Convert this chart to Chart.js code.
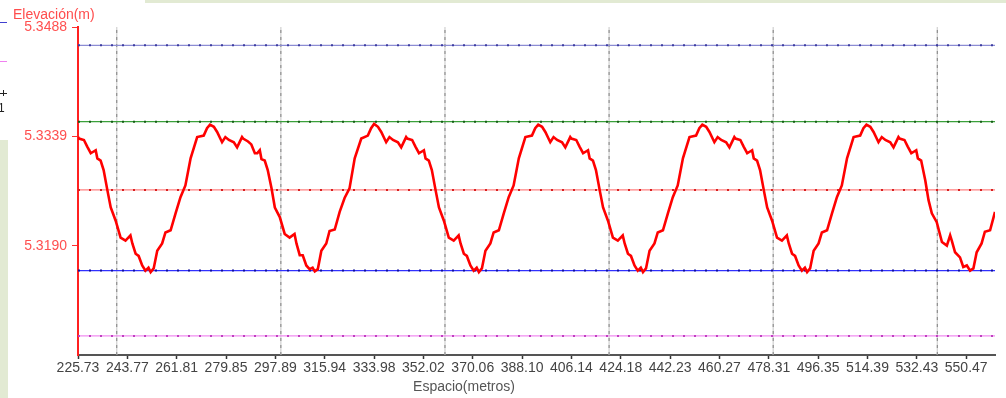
<!DOCTYPE html>
<html>
<head>
<meta charset="utf-8">
<script src="https://cdn.jsdelivr.net/npm/chart.js@4/dist/chart.umd.min.js"></script>
<style>
  body { margin: 0; background: #fff; }
  #wrap { width: 1006px; height: 398px; }
</style>
</head>
<body>
<div id="wrap"><canvas id="myChart" width="1006" height="398"></canvas></div>
<script>
// perfil medido (m)
const espacio = [
  225.73, 226.1, 227.9, 229.1, 230.4, 231.3, 232.2, 232.8, 234.0, 235.1, 236.5, 237.7, 239.5, 241.3, 243.1, 244.9, 245.6, 246.8, 247.9, 249.2, 250.4, 251.5, 252.3, 253.4, 254.7, 256.5, 257.7, 259.6, 261.4, 263.2, 265.0, 266.9, 269.3, 271.7, 272.9, 274.0, 275.4, 276.6, 278.4, 279.6, 280.9, 282.7, 283.9,
  285.7, 286.1, 287.9, 289.1, 290.4, 291.3, 292.2, 292.8, 294.0, 295.1, 296.5, 297.7, 299.5, 301.3, 303.1, 304.9, 305.6, 306.8, 307.9, 309.2, 310.4, 311.5, 312.3, 313.4, 314.7, 316.5, 317.7, 319.6, 321.4, 323.2, 325.0, 326.9, 329.3, 331.7, 332.9, 334.0, 335.4, 336.6, 338.4, 339.6, 340.9, 342.7, 343.9,
  345.7, 346.1, 347.9, 349.1, 350.4, 351.3, 352.2, 352.8, 354.0, 355.1, 356.5, 357.7, 359.5, 361.3, 363.1, 364.9, 365.6, 366.8, 367.9, 369.2, 370.4, 371.5, 372.3, 373.4, 374.7, 376.5, 377.7, 379.6, 381.4, 383.2, 385.0, 386.9, 389.3, 391.7, 392.9, 394.0, 395.4, 396.6, 398.4, 399.6, 400.9, 402.7, 403.9,
  405.7, 406.1, 407.9, 409.1, 410.4, 411.3, 412.2, 412.8, 414.0, 415.1, 416.5, 417.7, 419.5, 421.3, 423.1, 424.9, 425.6, 426.8, 427.9, 429.2, 430.4, 431.5, 432.3, 433.4, 434.7, 436.5, 437.7, 439.6, 441.4, 443.2, 445.0, 446.9, 449.3, 451.7, 452.9, 454.0, 455.4, 456.6, 458.4, 459.6, 460.9, 462.7, 463.9,
  465.7, 466.1, 467.9, 469.1, 470.4, 471.3, 472.2, 472.8, 474.0, 475.1, 476.5, 477.7, 479.5, 481.3, 483.1, 484.9, 485.6, 486.8, 487.9, 489.2, 490.4, 491.5, 492.3, 493.4, 494.7, 496.5, 497.7, 499.6, 501.4, 503.2, 505.0, 506.9, 509.3, 511.7, 512.9, 514.0, 515.4, 516.6, 518.4, 519.6, 520.9, 522.7, 523.9,
  525.7, 526.1, 527.9, 529.1, 530.4, 531.3, 532.2, 532.8, 534.0, 535.5, 536.7, 537.9, 539.7, 541.6, 543.4, 544.6, 545.2, 546.4, 548.2, 549.4, 550.7, 551.9, 553.1, 554.3, 556.1, 557.3, 559.2, 561.0
];
const elevacion = [
  5.3338, 5.3336, 5.3334, 5.3325, 5.3316, 5.3318, 5.3320, 5.3309, 5.3306, 5.3293, 5.3265, 5.3242, 5.3224, 5.3201, 5.3197, 5.3204, 5.3193, 5.3179, 5.3176, 5.3163, 5.3156, 5.3160, 5.3154, 5.3159, 5.3183, 5.3193, 5.3208, 5.3211, 5.3234, 5.3256, 5.3272, 5.3309, 5.3338, 5.3340, 5.3350, 5.3355, 5.3352, 5.3345, 5.3331, 5.3338, 5.3334, 5.3331, 5.3324,
  5.3338, 5.3336, 5.3332, 5.3328, 5.3316, 5.3316, 5.3320, 5.3308, 5.3306, 5.3293, 5.3268, 5.3242, 5.3229, 5.3206, 5.3201, 5.3206, 5.3193, 5.3177, 5.3177, 5.3163, 5.3158, 5.3160, 5.3155, 5.3158, 5.3183, 5.3193, 5.3210, 5.3212, 5.3236, 5.3255, 5.3268, 5.3309, 5.3336, 5.3340, 5.3350, 5.3356, 5.3352, 5.3345, 5.3331, 5.3338, 5.3334, 5.3331, 5.3324,
  5.3338, 5.3336, 5.3334, 5.3325, 5.3316, 5.3318, 5.3320, 5.3309, 5.3306, 5.3293, 5.3265, 5.3242, 5.3224, 5.3201, 5.3197, 5.3204, 5.3193, 5.3179, 5.3176, 5.3163, 5.3156, 5.3160, 5.3154, 5.3159, 5.3183, 5.3193, 5.3208, 5.3211, 5.3234, 5.3256, 5.3272, 5.3309, 5.3338, 5.3340, 5.3350, 5.3355, 5.3352, 5.3345, 5.3331, 5.3338, 5.3334, 5.3331, 5.3324,
  5.3338, 5.3336, 5.3334, 5.3325, 5.3316, 5.3318, 5.3320, 5.3309, 5.3306, 5.3293, 5.3265, 5.3242, 5.3224, 5.3201, 5.3197, 5.3204, 5.3193, 5.3179, 5.3176, 5.3163, 5.3156, 5.3160, 5.3154, 5.3159, 5.3183, 5.3193, 5.3208, 5.3211, 5.3234, 5.3256, 5.3272, 5.3309, 5.3338, 5.3340, 5.3350, 5.3355, 5.3352, 5.3345, 5.3331, 5.3338, 5.3334, 5.3331, 5.3324,
  5.3338, 5.3336, 5.3334, 5.3325, 5.3316, 5.3318, 5.3320, 5.3309, 5.3306, 5.3293, 5.3265, 5.3242, 5.3224, 5.3201, 5.3197, 5.3204, 5.3193, 5.3179, 5.3176, 5.3163, 5.3156, 5.3160, 5.3154, 5.3159, 5.3183, 5.3193, 5.3208, 5.3211, 5.3234, 5.3256, 5.3272, 5.3309, 5.3338, 5.3340, 5.3350, 5.3355, 5.3352, 5.3345, 5.3331, 5.3338, 5.3334, 5.3331, 5.3324,
  5.3338, 5.3336, 5.3334, 5.3325, 5.3316, 5.3318, 5.3320, 5.3309, 5.3306, 5.3279, 5.3252, 5.3234, 5.3222, 5.3195, 5.3190, 5.3204, 5.3197, 5.3181, 5.3174, 5.3161, 5.3163, 5.3156, 5.3159, 5.3181, 5.3193, 5.3209, 5.3211, 5.3236
];

// lineas de referencia (elevacion) y marcas de espacio
const refElevacion = [5.3463, 5.3359, 5.3266, 5.3156, 5.3067];
const marcasEspacio = [239.9, 299.9, 359.9, 419.9, 479.9, 539.9];

const ticksEspacio = [225.73, 243.77, 261.81, 279.85, 297.89, 315.94, 333.98, 352.02, 370.06, 388.10,
  406.14, 424.18, 442.23, 460.27, 478.31, 496.35, 514.39, 532.43, 550.47];
const etiquetasEspacio = ['225.73', '243.77', '261.81', '279.85', '297.89', '315.94', '333.98', '352.02', '370.06', '388.10',
  '406.14', '424.18', '442.23', '460.27', '478.31', '496.35', '514.39', '532.43', '550.47'];
const ticksElevacion = [5.3488, 5.3339, 5.3190];

const xMin = 225.73, xMax = 561.0;
const yMin = 5.3041, yMax = 5.3488;

const fuente = '"Liberation Sans", Arial, sans-serif';

const refColores = [
  ['#8c8cd4', '#3c3ca0'],
  ['#3aa03a', '#145c14'],
  ['#ff8080', '#d82020'],
  ['#3030ff', '#10109a'],
  ['#f08cf0', '#c040c0']
];

const datasets = [{
  data: espacio.map((x, i) => ({ x: x, y: elevacion[i] })),
  borderColor: '#ff0000',
  borderWidth: 2.6,
  pointRadius: 0,
  tension: 0
}];

refElevacion.forEach((v, i) => {
  const pts = [{ x: xMin, y: v }, { x: xMax, y: v }];
  datasets.push({ data: pts, borderColor: refColores[i][1], borderWidth: 2, borderDash: [2, 9], pointRadius: 0 });
  datasets.push({ data: pts, borderColor: refColores[i][0], borderWidth: 1.2, pointRadius: 0 });
});

marcasEspacio.forEach(m => {
  const pts = [{ x: m, y: yMin }, { x: m, y: yMax + 0.0002 }];
  datasets.push({ data: pts, borderColor: '#808080', borderWidth: 1, borderDash: [3, 4], pointRadius: 0 });
  datasets.push({ data: pts, borderColor: '#d0d0d0', borderWidth: 1.2, pointRadius: 0 });
});

const fondo = {
  id: 'fondo',
  beforeDraw(chart) {
    const c = chart.ctx;
    c.save();
    c.fillStyle = '#ffffff';
    c.fillRect(0, 0, chart.width, chart.height);
    c.fillStyle = '#e2ead3';
    c.fillRect(0, 140, 8, chart.height - 140);
    c.fillRect(145, 0, chart.width - 145, 3);
    // restos de la leyenda recortada
    c.fillStyle = '#4040d0';
    c.fillRect(0, 22, 7, 1);
    c.fillStyle = '#f080f0';
    c.fillRect(0, 61, 7, 1);
    c.fillStyle = '#222';
    c.fillRect(0, 93, 7, 1);
    c.fillRect(3, 90, 1, 6);
    c.font = '12px ' + fuente;
    c.fillText('1', -2, 112);
    c.restore();
  },
  afterDraw(chart) {
    const c = chart.ctx;
    c.save();
    c.font = '14px ' + fuente;
    c.fillStyle = '#ff4d4d';
    c.textBaseline = 'middle';
    c.textAlign = 'left';
    c.fillText('Elevación(m)', 13, 15);
    c.fillStyle = '#555';
    c.textAlign = 'center';
    c.fillText('Espacio(metros)', 464, 387);
    c.restore();
  }
};

new Chart(document.getElementById('myChart'), {
  type: 'line',
  data: { datasets: datasets },
  options: {
    responsive: false,
    animation: false,
    devicePixelRatio: 1,
    layout: { padding: { top: 27, right: 11, left: 0, bottom: 0 } },
    plugins: { legend: { display: false }, tooltip: { enabled: false } },
    scales: {
      x: {
        type: 'linear',
        min: xMin,
        max: xMax,
        afterBuildTicks: s => { s.ticks = ticksEspacio.map(v => ({ value: v })); },
        afterFit: s => { s.height = 43; },
        grid: { drawOnChartArea: false, drawTicks: true, tickLength: 4, tickColor: '#333', tickWidth: 1.5 },
        border: { color: '#555', width: 2 },
        ticks: {
          autoSkip: false, maxRotation: 0, padding: 1,
          color: '#444',
          font: { family: fuente, size: 14 },
          callback: (v, i) => etiquetasEspacio[i]
        }
      },
      y: {
        min: yMin,
        max: yMax,
        afterBuildTicks: s => { s.ticks = ticksElevacion.map(v => ({ value: v })); },
        afterFit: s => { s.width = 78; },
        grid: { drawOnChartArea: false, drawTicks: true, tickLength: 6, tickColor: '#ff3030' },
        border: { color: '#ff2020', width: 2 },
        ticks: {
          padding: 5,
          color: '#ff5050',
          font: { family: fuente, size: 14 },
          callback: v => v.toFixed(4)
        }
      }
    }
  },
  plugins: [fondo]
});
</script>
</body>
</html>
